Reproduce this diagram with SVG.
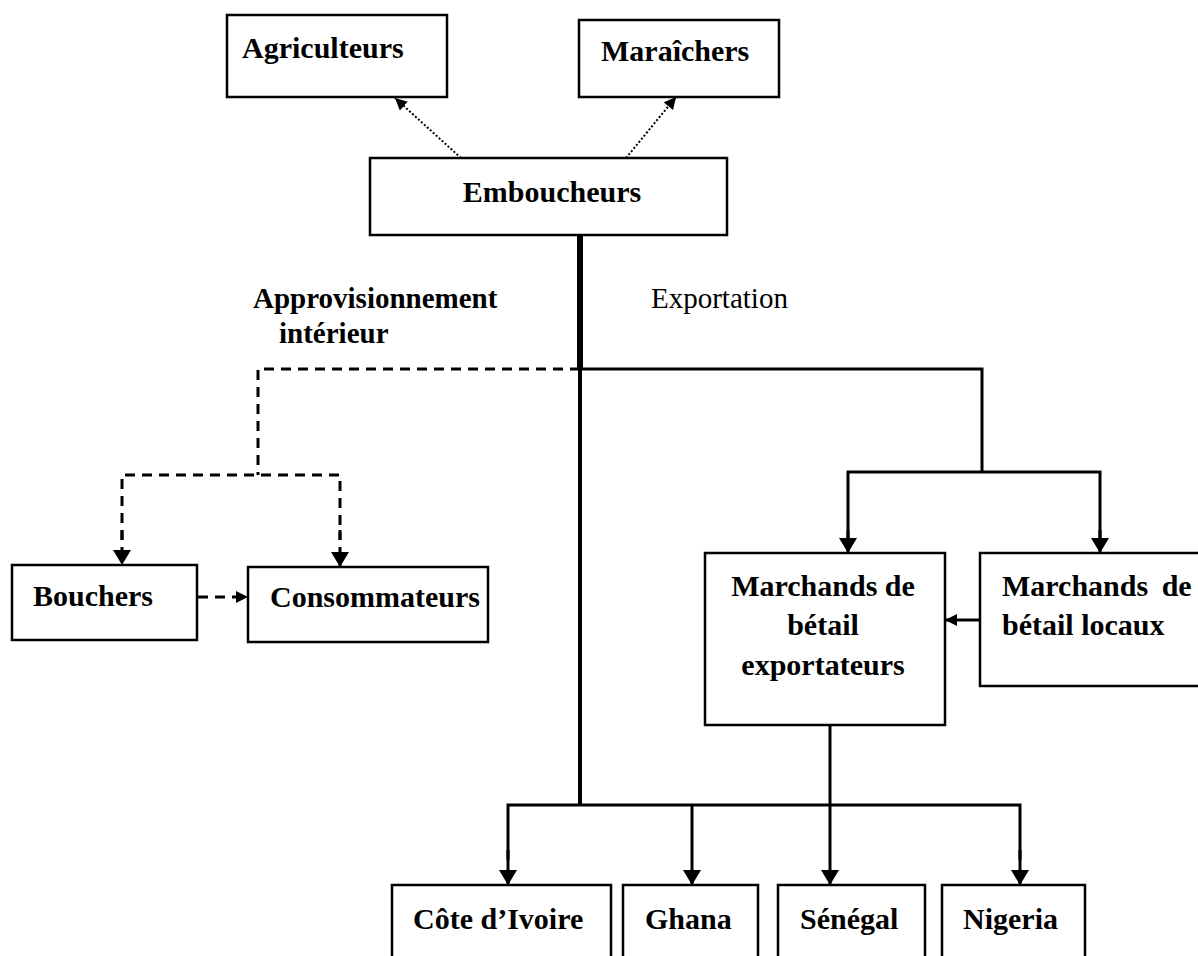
<svg xmlns="http://www.w3.org/2000/svg" width="1198" height="956" viewBox="0 0 1198 956">
<defs>
<style>
.box{fill:#fff;stroke:#000;stroke-width:2.5}
.t{font-family:"Liberation Serif","Times New Roman",serif;font-size:30px;font-weight:bold;fill:#000}
.tn{font-family:"Liberation Serif","Times New Roman",serif;font-size:29px;fill:#000}
.s{fill:none;stroke:#000;stroke-width:3}
.d{fill:none;stroke:#000;stroke-width:3;stroke-dasharray:10 7}
.o{fill:none;stroke:#000;stroke-width:2;stroke-dasharray:2 2}
</style>
<marker id="ah" markerUnits="userSpaceOnUse" markerWidth="18" markerHeight="18" viewBox="0 0 15 18" refX="15" refY="9" orient="auto">
<path d="M0,0 L15,9 L0,18 Z" fill="#000"/>
</marker>
<marker id="ahs" markerUnits="userSpaceOnUse" markerWidth="12" markerHeight="12" viewBox="0 0 12 12" refX="12" refY="6" orient="auto">
<path d="M0,0 L12,6 L0,12 Z" fill="#000"/>
</marker>
</defs>
<rect width="1198" height="956" fill="#fff"/>

<g id="connectors">
<line class="o" x1="461" y1="158" x2="395" y2="98" marker-end="url(#ahs)"/>
<line class="o" x1="626" y1="158" x2="676" y2="97" marker-end="url(#ahs)"/>
<line x1="580" y1="235" x2="580" y2="369" stroke="#000" stroke-width="6"/>
<line x1="580" y1="369" x2="580" y2="806" stroke="#000" stroke-width="4"/>
<polyline class="d" points="580,369 258,369 258,475"/>
<polyline class="d" points="122,540 122,475 340,475 340,540"/>
<line class="d" x1="122" y1="530" x2="122" y2="565" marker-end="url(#ah)"/>
<line class="d" x1="340" y1="530" x2="340" y2="567" marker-end="url(#ah)"/>
<line class="d" x1="198" y1="597" x2="248" y2="597" marker-end="url(#ahs)"/>
<polyline class="s" points="580,369 982,369 982,472"/>
<polyline class="s" points="848,540 848,472 1100,472 1100,540"/>
<line class="s" x1="848" y1="530" x2="848" y2="553" marker-end="url(#ah)"/>
<line class="s" x1="1100" y1="530" x2="1100" y2="553" marker-end="url(#ah)"/>
<line class="s" x1="980" y1="620" x2="945" y2="620" marker-end="url(#ahs)"/>
<line class="s" x1="830" y1="725" x2="830" y2="885" marker-end="url(#ah)"/>
<polyline class="s" points="508,860 508,805 1020,805 1020,860"/>
<line class="s" x1="508" y1="850" x2="508" y2="885" marker-end="url(#ah)"/>
<line class="s" x1="692" y1="805" x2="692" y2="885" marker-end="url(#ah)"/>
<line class="s" x1="1020" y1="850" x2="1020" y2="885" marker-end="url(#ah)"/>
</g>

<g id="agriculteurs"><rect class="box" x="227" y="15" width="220" height="82"/><text class="t" x="242" y="58">Agriculteurs</text></g>
<g id="maraichers"><rect class="box" x="579" y="20" width="200" height="77"/><text class="t" x="601" y="61">Maraîchers</text></g>
<g id="emboucheurs"><rect class="box" x="370" y="158" width="357" height="77"/><text class="t" x="552" y="202" text-anchor="middle">Emboucheurs</text></g>
<g id="label-appro"><text class="t" x="253" y="308" style="font-size:29px">Approvisionnement</text><text class="t" x="279" y="343" style="font-size:29px">intérieur</text></g>
<g id="label-export"><text class="tn" x="651" y="308">Exportation</text></g>
<g id="bouchers"><rect class="box" x="12" y="565" width="185" height="75"/><text class="t" x="33" y="606">Bouchers</text></g>
<g id="consommateurs"><rect class="box" x="248" y="567" width="240" height="75"/><text class="t" x="270" y="607">Consommateurs</text></g>
<g id="marchands-exportateurs"><rect class="box" x="705" y="553" width="240" height="172"/>
<text class="t" x="823" y="596" text-anchor="middle">Marchands de</text>
<text class="t" x="823" y="635" text-anchor="middle">bétail</text>
<text class="t" x="823" y="675" text-anchor="middle">exportateurs</text></g>
<g id="marchands-locaux"><rect class="box" x="980" y="553" width="222" height="133"/>
<text class="t" x="1002" y="596" word-spacing="6">Marchands de</text>
<text class="t" x="1002" y="635">bétail locaux</text></g>
<g id="cote-divoire"><rect class="box" x="392" y="885" width="219" height="80"/><text class="t" x="413" y="929">Côte d’Ivoire</text></g>
<g id="ghana"><rect class="box" x="623" y="885" width="135" height="80"/><text class="t" x="645" y="929">Ghana</text></g>
<g id="senegal"><rect class="box" x="778" y="885" width="147" height="80"/><text class="t" x="800" y="929">Sénégal</text></g>
<g id="nigeria"><rect class="box" x="942" y="885" width="143" height="80"/><text class="t" x="963" y="929">Nigeria</text></g>
</svg>
